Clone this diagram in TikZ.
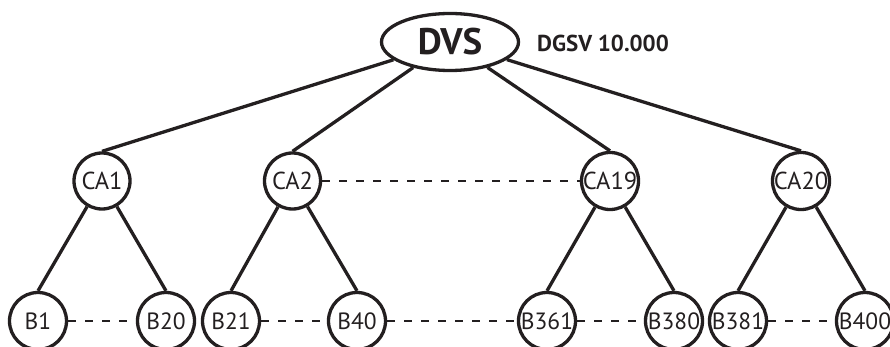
\documentclass[tikz,border=0pt]{standalone}
\usepackage{fontspec}
\setmainfont{PT Sans}
\usetikzlibrary{shapes.geometric}
\definecolor{ink}{HTML}{231F20}
\begin{document}
\begin{tikzpicture}[x=1pt,y=-1pt,
  every node/.style={text=ink},
  root/.style={ellipse,draw=ink,line width=3.3pt,inner sep=0pt,minimum width=137pt,minimum height=57pt,font=\fontsize{37}{37}\bfseries\selectfont},
  ca/.style={circle,draw=ink,line width=3.3pt,inner sep=0pt,minimum size=56pt,font=\fontsize{24.5}{24.5}\selectfont},
  bb/.style={circle,draw=ink,line width=3.3pt,inner sep=0pt,minimum size=57pt,font=\fontsize{23.5}{23.5}\selectfont},
  edge/.style={draw=ink,line width=3.3pt},
  dots/.style={draw=ink,line width=2.3pt,dash pattern=on 8pt off 9pt}]
\useasboundingbox (0,0) rectangle (890,347);
\node[root] (dvs) at (450,42) {DVS};
\node[font=\fontsize{23}{23}\bfseries\selectfont] (lbl) at (603,43) {DGSV 10.000};
\node[ca] (ca1) at (102,181) {CA1};
\node[ca] (ca2) at (292.5,181) {CA2};
\node[ca] (ca19) at (610,181) {CA19};
\node[ca] (ca20) at (801,181) {CA20};
\node[bb] (b1) at (38,321) {B1};
\node[bb] (b20) at (166,321) {B20};
\node[bb] (b21) at (231,321) {B21};
\node[bb] (b40) at (357,321) {B40};
\node[bb] (b361) at (547,321) {B361};
\node[bb] (b380) at (674,321) {B380};
\node[bb] (b381) at (738,321) {B381};
\node[bb] (b400) at (865,321) {B400};
\foreach \c in {ca1,ca2,ca19,ca20} \draw[edge] (dvs) -- (\c.north);
\draw[edge] (ca1) -- (b1.north);
\draw[edge] (ca1) -- (b20.north);
\draw[edge] (ca2) -- (b21.north);
\draw[edge] (ca2) -- (b40.north);
\draw[edge] (ca19) -- (b361.north);
\draw[edge] (ca19) -- (b380.north);
\draw[edge] (ca20) -- (b381.north);
\draw[edge] (ca20) -- (b400.north);
\draw[dots] (ca2) -- (ca19);
\draw[dots] (b1) -- (b20);
\draw[dots] (b21) -- (b40);
\draw[dots] (b40) -- (b361);
\draw[dots] (b361) -- (b380);
\draw[dots] (b381) -- (b400);
\end{tikzpicture}
\end{document}
